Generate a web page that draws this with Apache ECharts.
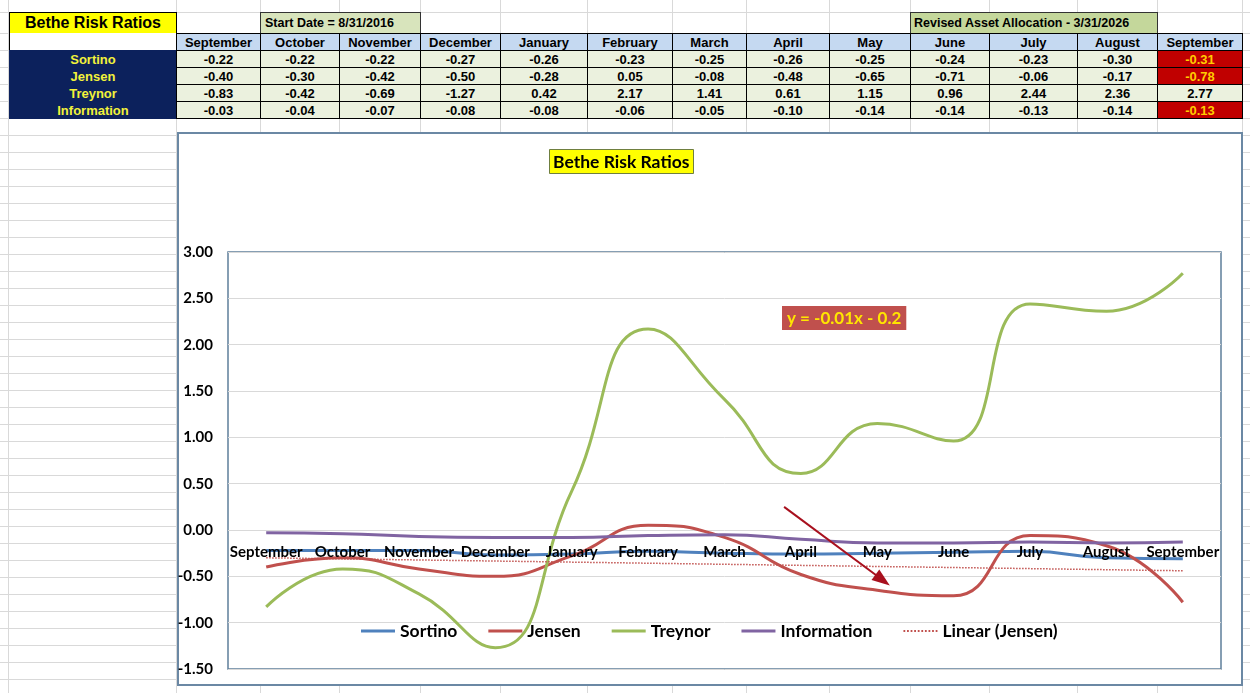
<!DOCTYPE html>
<html><head><meta charset="utf-8">
<script src="https://cdn.jsdelivr.net/npm/echarts@6/dist/echarts.min.js"></script>
<style>
html,body{margin:0;padding:0;width:1250px;height:693px;overflow:hidden;background:#fff;}
#sheet{position:absolute;left:0;top:0;width:1250px;height:693px;}
.gl{position:absolute;background:#d9d9d9;}
.cell{position:absolute;box-sizing:border-box;font-family:'Liberation Sans',Arial,sans-serif;font-weight:bold;font-size:13px;display:flex;align-items:center;justify-content:center;white-space:nowrap;color:#000;}
#box{position:absolute;left:177px;top:132px;width:1066px;height:554px;box-sizing:border-box;border:2px solid #6b88a4;background:#fff;}
#chart{position:absolute;left:0;top:0;width:1250px;height:693px;}
</style></head><body>
<div id="sheet"></div>
<div id="box"></div>
<div id="chart"></div>
<script>
// ---- data ----
const categories = ['September','October','November','December','January','February','March','April','May','June','July','August','September'];
const sortino     = [-0.22,-0.22,-0.22,-0.27,-0.26,-0.23,-0.25,-0.26,-0.25,-0.24,-0.23,-0.30,-0.31];
const jensen      = [-0.40,-0.30,-0.42,-0.50,-0.28, 0.05,-0.08,-0.48,-0.65,-0.71,-0.06,-0.17,-0.78];
const treynor     = [-0.83,-0.42,-0.69,-1.27, 0.42, 2.17, 1.41, 0.61, 1.15, 0.96, 2.44, 2.36, 2.77];
const information = [-0.03,-0.04,-0.07,-0.08,-0.08,-0.06,-0.05,-0.10,-0.14,-0.14,-0.13,-0.14,-0.13];
const seriesNames = ['Sortino','Jensen','Treynor','Information'];
const trendName = 'Linear (Jensen)';
const trendStart = -0.30;   // (first category)
const trendEnd = -0.44;     // (last category)
const equationText = 'y = -0.01x - 0.2';
const tableTitle = 'Bethe Risk Ratios';
const chartTitle = 'Bethe Risk Ratios';
const startDateText = 'Start Date = 8/31/2016';
const revisedText = 'Revised Asset Allocation - 3/31/2026';
const yTicks = [-1.5,-1.0,-0.5,0,0.5,1.0,1.5,2.0,2.5,3.0];
const arrowFrom = [6.78, 0.25];
const arrowTo = [8.07, -0.54];

// ---- spreadsheet backdrop ----
const sheet = document.getElementById('sheet');
const colEdges = [9,176,260,339,420,500,587,672,746,829,910,989,1077,1157,1242];
const rowEdges = [12,33,50,67,84,101,118];
for (let y = 135; y < 693; y += 17) rowEdges.push(y);
function div(cls, css, txt){ const d=document.createElement('div'); d.className=cls; Object.assign(d.style, css); if(txt!=null) d.textContent=txt; sheet.appendChild(d); return d; }
[8].concat(colEdges.slice(1)).forEach(x=>div('gl',{left:x+'px',top:'0px',width:'1px',height:'693px'}));
rowEdges.forEach(y=>div('gl',{left:'0px',top:y+'px',width:'1250px',height:'1px'}));

div('cell',{left:'9px',top:'12px',width:'168px',height:'22px',background:'#ffff00',border:'1px solid #000',fontSize:'16px'},tableTitle);
div('cell',{left:'260px',top:'12px',width:'161px',height:'22px',background:'#d8e4bc',border:'1px solid #333',justifyContent:'flex-start',paddingLeft:'4px',fontSize:'12.5px'},startDateText);
div('cell',{left:'910px',top:'12px',width:'248px',height:'22px',background:'#c4d79b',border:'1px solid #333',justifyContent:'flex-start',paddingLeft:'3px',fontSize:'12.5px'},revisedText);
div('cell',{left:'9px',top:'33px',width:'168px',height:'18px',background:'#fff',borderLeft:'1px solid #000'},'');
categories.forEach((c,i)=>{
  const l=colEdges[i+1], w=colEdges[i+2]-l;
  div('cell',{left:l+'px',top:'33px',width:(w+1)+'px',height:'18px',background:'#c5d9f1',border:'1px solid #000'},c);
});
const rows=[sortino,jensen,treynor,information];
rows.forEach((arr,r)=>{
  const top=50+17*r;
  div('cell',{left:'9px',top:top+'px',width:'168px',height:'18px',background:'#0c215c',color:'#f2f23a'},seriesNames[r]);
  arr.forEach((v,i)=>{
    const l=colEdges[i+1], w=colEdges[i+2]-l;
    const hot = (i===arr.length-1 && v<0);
    div('cell',{left:l+'px',top:top+'px',width:(w+1)+'px',height:'18px',background:hot?'#c00000':'#ebf1de',color:hot?'#ffcc00':'#000',border:'1px solid #000'},v.toFixed(2));
  });
});

// ---- chart ----
const F = 'Lato, "Open Sans", sans-serif';
const trendData = categories.map((c,i)=> i===0 ? trendStart : (i===categories.length-1 ? trendEnd : null));
const colors = ['#4f81bd','#c0504d','#9bbb59','#8064a2'];
const trendColor = '#c0504d';
const dotIcon = 'path://M0,0h1v1h-1zM2,0h1v1h-1zM4,0h1v1h-1zM6,0h1v1h-1zM8,0h1v1h-1zM10,0h1v1h-1zM12,0h1v1h-1zM14,0h1v1h-1zM16,0h1v1h-1zM18,0h1v1h-1z';
const chart = echarts.init(document.getElementById('chart'));
const lineSeries = rows.map((arr,k)=>({
  name: seriesNames[k], type:'line', data:arr, smooth:true, symbol:'none', showSymbol:false,
  lineStyle:{width:3,color:colors[k]}, itemStyle:{color:colors[k]}
}));
const legendData = seriesNames.map(n=>({name:n, icon:'rect'})).concat([{name:trendName, icon:dotIcon}]);
chart.setOption({
  backgroundColor:'transparent',
  animation:false,
  title:[
    {text:chartTitle, left:549, top:149, backgroundColor:'#ffff00', borderColor:'#6f7f3f', borderWidth:1, padding:[4,4,3,4],
     textStyle:{fontFamily:F,fontWeight:'bold',fontSize:17.5,color:'#000'}},
    {text:equationText, left:782, top:306, backgroundColor:'#c0504d', padding:[4,5,3,5],
     textStyle:{fontFamily:F,fontWeight:'bold',fontSize:17,color:'#ffe600'}}
  ],
  grid:{left:228, top:252, width:993, height:417, show:true, borderColor:'#5f7f9b', borderWidth:1.5, backgroundColor:'transparent', containLabel:false},
  legend:{data:legendData, left:356, top:617, itemWidth:34, itemHeight:3, itemGap:31,
    textStyle:{fontFamily:F,fontWeight:'bold',fontSize:17.5,color:'#000'}},
  xAxis:[
    {type:'category', data:categories, boundaryGap:true, position:'bottom', offset:0, z:10,
     axisLine:{show:false,onZero:false}, axisTick:{show:false},
     axisLabel:{interval:0, margin:13, fontFamily:F, fontWeight:'bold', fontSize:15, color:'#000'},
     splitLine:{show:false}},
    {type:'value', min:-0.5, max:12.5, show:false, axisLine:{onZero:false}}
  ],
  yAxis:{type:'value', min:yTicks[0], max:yTicks[yTicks.length-1], interval:0.5,
    axisLine:{show:false,onZero:false}, axisTick:{show:false},
    axisLabel:{formatter:v=>v.toFixed(2), margin:15, fontFamily:F, fontWeight:'bold', fontSize:15, color:'#000'},
    splitLine:{lineStyle:{color:'#d9d9d9',width:1}}},
  series: lineSeries.concat([
    {name:trendName, type:'line', data:trendData, connectNulls:true, symbol:'none', showSymbol:false, z:3,
     lineStyle:{width:1.5,type:'dotted',color:trendColor}, itemStyle:{color:trendColor}},
    {name:'arrow', type:'line', xAxisIndex:1, data:[], symbol:'none',
     markLine:{silent:true, animation:false, symbol:['none','triangle'], symbolSize:[13,18], label:{show:false},
       lineStyle:{color:'#a8101e', width:2, type:'solid'},
       data:[[{coord:arrowFrom},{coord:arrowTo}]]}}
  ])
});
// place the category axis on the zero line (computed from the value scale)
const zeroPx = chart.convertToPixel({yAxisIndex:0}, 0);
const basePx = chart.convertToPixel({yAxisIndex:0}, yTicks[0]);
chart.setOption({xAxis:[{offset: zeroPx - basePx},{}]});
</script>
</body></html>
